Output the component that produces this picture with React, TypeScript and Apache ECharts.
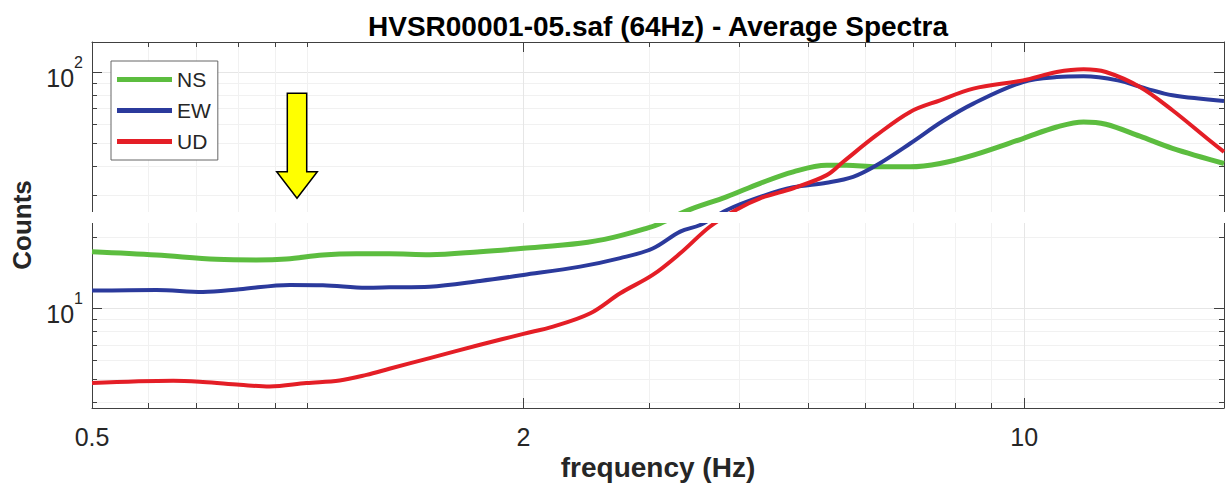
import React, { useEffect, useRef } from 'react';
import * as echarts from 'echarts';

const TITLE = 'HVSR00001-05.saf (64Hz) - Average Spectra';
const X_NAME = 'frequency (Hz)';
const Y_NAME = 'Counts';
const X_MIN = 0.5;
const X_MAX = 19;
const Y_MIN = 3.78;
const Y_MAX = 134;
const X_LABELS = [0.5, 2, 10];
const X_MINOR = [0.6, 0.7, 0.8, 0.9, 1, 3, 4, 5, 6, 7, 8, 9];
const Y_LABELS = [10, 100];
const Y_MINOR = [4, 5, 6, 7, 8, 9, 20, 30, 40, 50, 60, 70, 80, 90];

const SERIES_NAMES = ['NS', 'EW', 'UD'];
const SERIES_COLORS = ['#5cbd3f', '#2b3a9c', '#e41e26'];

const NS_FREQ = [0.5, 0.615, 0.746, 0.848, 0.934, 1.05, 1.17, 1.3, 1.48, 1.74, 2.0, 2.4, 2.67, 2.97, 3.1, 3.38, 3.84, 4.28, 4.76, 5.3, 5.65, 6.22, 6.93, 7.63, 8.49, 9.96, 11.1, 12.1, 13.0, 14.5, 16.1, 19.0];
const NS_COUNTS = [17.35, 16.8, 16.1, 16.0, 16.16, 16.8, 17.0, 17.0, 16.85, 17.35, 17.93, 18.83, 19.95, 21.78, 22.8, 25.85, 29.6, 33.8, 37.8, 40.3, 40.3, 39.7, 39.7, 41.0, 44.5, 52.3, 58.5, 61.5, 60.1, 53.5, 47.5, 41.0];

const EW_FREQ = [0.5, 0.615, 0.714, 0.804, 0.944, 1.05, 1.208, 1.3, 1.48, 1.74, 2.0, 2.4, 2.73, 3.03, 3.31, 3.53, 3.84, 4.28, 4.76, 5.3, 5.77, 6.22, 6.93, 7.7, 8.49, 9.96, 11.1, 12.1, 13.5, 14.8, 16.1, 19.0];
const EW_COUNTS = [11.87, 11.95, 11.72, 12.03, 12.55, 12.52, 12.22, 12.26, 12.34, 13.04, 13.83, 15.0, 16.3, 17.9, 21.1, 22.5, 26.0, 29.6, 32.5, 34.0, 36.0, 40.3, 49.8, 62.0, 73.5, 90.7, 95.2, 95.9, 92.2, 85.1, 79.7, 75.4];

const UD_FREQ = [0.5, 0.649, 0.714, 0.804, 0.885, 0.996, 1.108, 1.208, 1.3, 1.48, 1.74, 2.0, 2.2, 2.48, 2.73, 3.03, 3.31, 3.64, 3.97, 4.28, 4.76, 5.3, 5.59, 6.22, 6.93, 7.63, 8.49, 9.96, 11.1, 12.1, 13.0, 14.5, 16.1, 18.0, 19.0];
const UD_COUNTS = [4.82, 4.93, 4.87, 4.74, 4.66, 4.82, 4.94, 5.22, 5.54, 6.15, 7.0, 7.79, 8.36, 9.52, 11.57, 13.83, 17.08, 22.13, 26.2, 29.2, 32.2, 36.6, 41.7, 54.0, 67.8, 75.9, 85.1, 92.2, 100, 102.7, 100, 86.4, 68.9, 52.3, 45.9];

const FONT = '"Liberation Sans", Arial, Helvetica, sans-serif';
const TEXT_COLOR = '#262626';
const AXIS_COLOR = '#404040';

function pairs(xs: number[], ys: number[]) {
  return xs.map((x, i) => [x, ys[i]]);
}

export default function App() {
  const ref = useRef<HTMLDivElement>(null);

  useEffect(() => {
    if (!ref.current) return;
    const chart = echarts.init(ref.current, undefined, { renderer: 'svg' });

    const xBase = { type: 'log', logBase: 10, min: X_MIN, max: X_MAX, gridIndex: 0 };
    const yBase = { type: 'log', logBase: 10, min: Y_MIN, max: Y_MAX, gridIndex: 0 };

    const mkAxis = (base: any, position: string, ticks: number[], len: number, opts: any) => ({
      ...base,
      position,
      axisLine: { show: opts.line, onZero: false, lineStyle: { color: AXIS_COLOR, width: 1 } },
      axisTick: {
        show: true,
        inside: true,
        length: len,
        customValues: ticks,
        lineStyle: { color: AXIS_COLOR, width: 1 },
      },
      axisLabel: opts.label ? opts.label : { show: false },
      splitLine: opts.split
        ? { show: true, lineStyle: { color: opts.split, width: 1 } }
        : { show: false },
      minorTick: { show: false },
      minorSplitLine: { show: false },
      ...(opts.extra || {}),
    });

    const xLabel = {
      show: true,
      customValues: X_LABELS,
      color: TEXT_COLOR,
      fontFamily: FONT,
      fontSize: 25,
      margin: 16,
      formatter: (v: number) => String(v),
    };
    const yLabel = {
      show: true,
      customValues: Y_LABELS,
      margin: 9,
      formatter: (v: number) => `{b|10}{s|${Math.round(Math.log10(v))}}`,
      rich: {
        b: { fontSize: 25, lineHeight: 25, verticalAlign: 'bottom', color: TEXT_COLOR, fontFamily: FONT },
        s: { fontSize: 16, lineHeight: 36, verticalAlign: 'top', color: TEXT_COLOR, fontFamily: FONT },
      },
    };

    const xAxes = [
      mkAxis(xBase, 'bottom', X_LABELS, 10, {
        line: true,
        label: xLabel,
        split: '#e6e6e6',
        extra: {
          name: X_NAME,
          nameLocation: 'middle',
          nameGap: 44,
          nameTextStyle: { fontFamily: FONT, fontSize: 28, fontWeight: 'bold', color: TEXT_COLOR },
        },
      }),
      mkAxis(xBase, 'bottom', X_MINOR, 5, { line: false, split: '#f1f1f1' }),
      mkAxis(xBase, 'top', X_LABELS, 10, { line: true }),
      mkAxis(xBase, 'top', X_MINOR, 5, { line: false }),
    ];
    const yAxes = [
      mkAxis(yBase, 'left', Y_LABELS, 10, {
        line: true,
        label: yLabel,
        split: '#e6e6e6',
        extra: {
          name: Y_NAME,
          nameLocation: 'middle',
          nameGap: 55,
          nameRotate: 90,
          nameTextStyle: { fontFamily: FONT, fontSize: 26, fontWeight: 'bold', color: TEXT_COLOR },
        },
      }),
      mkAxis(yBase, 'left', Y_MINOR, 5, { line: false, split: '#f1f1f1' }),
      mkAxis(yBase, 'right', Y_LABELS, 10, { line: true }),
      mkAxis(yBase, 'right', Y_MINOR, 5, { line: false }),
    ];

    const dataSets = [pairs(NS_FREQ, NS_COUNTS), pairs(EW_FREQ, EW_COUNTS), pairs(UD_FREQ, UD_COUNTS)];

    const option: any = {
      animation: false,
      backgroundColor: '#ffffff',
      title: {
        text: TITLE,
        left: 363,
        top: 7,
        textStyle: { fontFamily: FONT, fontSize: 28, fontWeight: 'bold', color: '#000' },
      },
      grid: { left: 92, right: 6, top: 42, bottom: 78, containLabel: false, outerBoundsMode: 'none' },
      legend: {
        data: SERIES_NAMES,
        orient: 'vertical',
        left: 111,
        top: 61,
        padding: [8, 7, 8, 6],
        itemWidth: 55,
        itemHeight: 5,
        itemGap: 10,
        icon: 'rect',
        borderColor: '#666',
        borderWidth: 1,
        backgroundColor: '#ffffff',
        textStyle: { fontFamily: FONT, fontSize: 21, lineHeight: 20, color: TEXT_COLOR },
      },
      xAxis: xAxes,
      yAxis: yAxes,
      series: SERIES_NAMES.map((name, i) => ({
        name,
        type: 'line',
        xAxisIndex: 0,
        yAxisIndex: 0,
        data: dataSets[i],
        showSymbol: false,
        smooth: 0.35,
        lineStyle: { color: SERIES_COLORS[i], width: i === 0 ? 5 : 4 },
        itemStyle: { color: SERIES_COLORS[i] },
        z: 3,
      })),
      graphic: [
        {
          type: 'rect',
          z: 100,
          shape: { x: 86, y: 212, width: 1144, height: 11 },
          style: { fill: '#ffffff' },
        },
        {
          type: 'polygon',
          z: 101,
          shape: {
            points: [
              [287.3, 93.3],
              [306.7, 93.3],
              [306.7, 171.7],
              [317.3, 171.7],
              [297, 198.3],
              [276.7, 171.7],
              [287.3, 171.7],
            ],
          },
          style: { fill: '#ffff00', stroke: '#000000', lineWidth: 1.5 },
        },
      ],
    };

    chart.setOption(option);
    return () => chart.dispose();
  }, []);

  return (
    <div
      ref={ref}
      style={{ position: 'absolute', left: 0, top: 0, width: 1230, height: 486 }}
    />
  );
}
